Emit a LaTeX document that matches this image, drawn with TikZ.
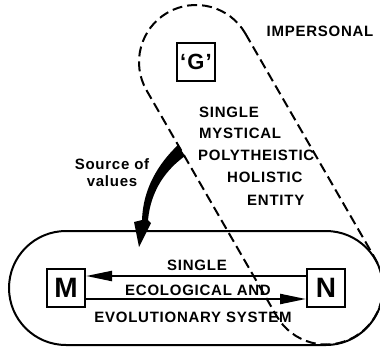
\documentclass[tikz,border=0pt]{standalone}
\usepackage{fontspec}
\newfontfamily\diagfont{Liberation Sans}[LetterSpace=5]
\usetikzlibrary{positioning,arrows.meta,calc}

\begin{document}
\begin{tikzpicture}[
  x=1pt, y=1pt,
  font=\diagfont\bfseries\fontsize{15}{17}\selectfont,
  ent/.style={
    rectangle, draw=black, line width=2pt,
    minimum size=38pt, inner sep=0pt,
    font=\diagfont\bfseries\fontsize{28}{28}\selectfont
  },
  lbl/.style={inner sep=0pt, align=center},
  hull/.style={draw=black, line width=2pt},
  fuzzy/.style={hull, dash pattern=on 10pt off 5pt},
  flow/.style={line width=2.2pt, -{Triangle[length=26pt,width=10pt]}}
]
\useasboundingbox (0,0) rectangle (380,349);

\node[ent] (M) at (66,61) {M};
\node[ent] (N) at (326,61) {N};
\node[ent, font=\diagfont\bfseries\fontsize{22}{22}\selectfont] (G) at (196,287) {‘G’};

\draw[hull] ([yshift=57pt]M.center) -- ([yshift=57pt]N.center)
  arc[start angle=90, end angle=-90, radius=57]
  -- ([yshift=-57pt]M.center)
  arc[start angle=270, end angle=90, radius=57] -- cycle;

\begin{scope}[shift={(G.center)}, rotate=-60.04]
  \draw[fuzzy] (0,57) -- (260.3,57)
    arc[start angle=90, end angle=-90, radius=57]
    -- (0,-57)
    arc[start angle=270, end angle=90, radius=57] -- cycle;
\end{scope}

\draw[flow] ([yshift=12pt]N.west) -- ([yshift=12pt]M.east);
\draw[flow] ([yshift=-11pt]M.east) -- ([yshift=-11pt]N.west);

\node[lbl] (single) at (197,84) {SINGLE};
\node[lbl] (eco) at (198,59) {ECOLOGICAL AND};
\node[lbl] (evo) at (193,32) {EVOLUTIONARY SYSTEM};

\node[lbl, anchor=west] (g1) at (199,237) {SINGLE};
\node[lbl, anchor=west] (g2) at (199,216) {MYSTICAL};
\node[lbl, anchor=west] (g3) at (198,194) {POLYTHEISTIC};
\node[lbl, anchor=west] (g4) at (227,172) {HOLISTIC};
\node[lbl, anchor=west] (g5) at (247,149) {ENTITY};

\node[lbl] (imp) at (320,318) {IMPERSONAL};
\node[lbl] (src) at (112,176) {Source of\\values};

\coordinate (srcL) at (178,204);
\coordinate (srcR) at (185,193);
\fill (srcL) .. controls (158,185) and (143,160) .. (142,129)
  -- (134,127) -- (139,102) -- (151,126) -- (148,129)
  .. controls (151,160) and (167,180) .. (srcR) -- cycle;

\end{tikzpicture}
\end{document}
